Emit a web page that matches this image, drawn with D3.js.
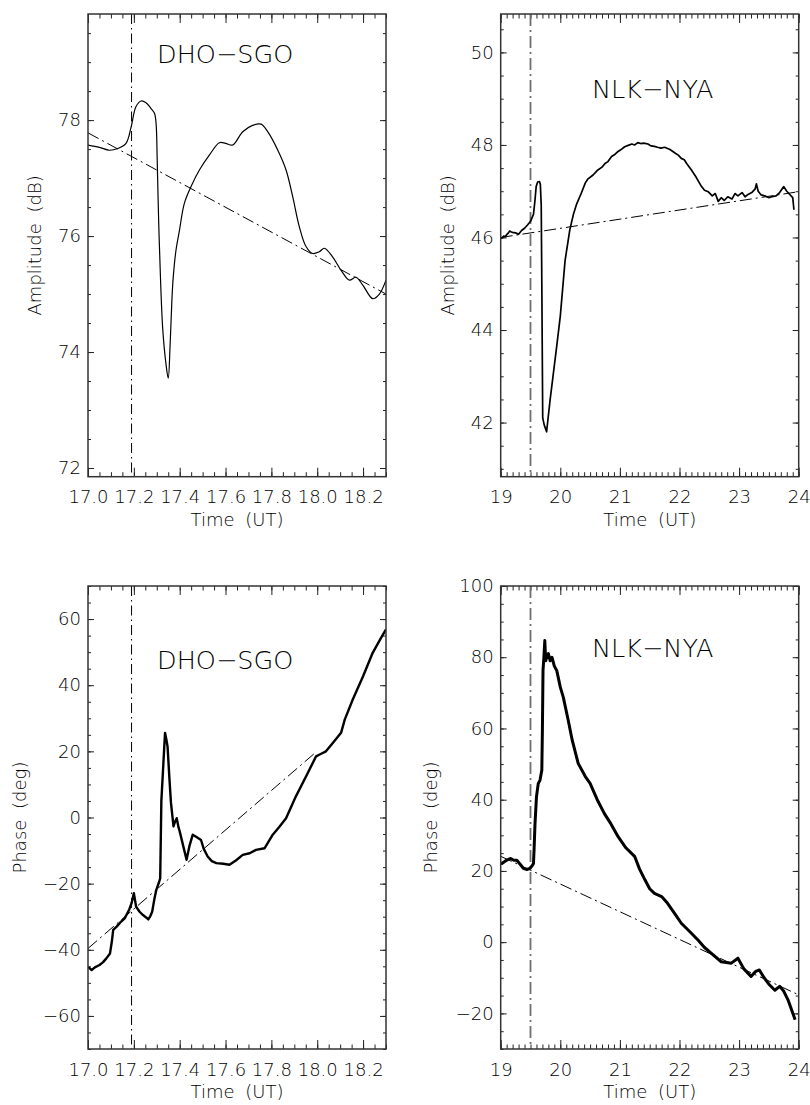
<!DOCTYPE html>
<html>
<head>
<meta charset="utf-8">
<script src="https://cdn.jsdelivr.net/npm/d3@7"></script>
<style>
  body { margin: 0; background: #fff; }
  svg { display: block; }
  text { font-family: "DejaVu Sans", sans-serif; font-weight: 200; fill: #000; }
  .axis path { display: none; }
  .axis line { stroke: #222; stroke-width: 1; }
</style>
</head>
<body>
<svg width="810" height="1105"></svg>
<script>
// --- tick labels ---
const dhoTimeTicks = [17.0, 17.2, 17.4, 17.6, 17.8, 18.0, 18.2]
const nlkTimeTicks = [19, 20, 21, 22, 23, 24]
const dhoAmpTicks = [72, 74, 76, 78]
const nlkAmpTicks = [42, 44, 46, 48, 50]
const dhoPhaseTicks = [-60, -40, -20, 0, 20, 40, 60]
const nlkPhaseTicks = [-20, 0, 20, 40, 60, 80, 100]

// --- flare onset (UT) ---
const dhoEvent = 17.19
const nlkEvent = 19.5

// --- DHO-SGO amplitude (UT, dB) ---
const dhoAmp = [
  [17.0,77.57],[17.05,77.53],[17.093,77.48],[17.13,77.51],[17.166,77.6],[17.188,77.88],
  [17.209,78.23],[17.231,78.33],[17.253,78.3],[17.275,78.2],[17.29,78.12],[17.297,77.94],
  [17.302,77.3],[17.308,76.3],[17.316,75.3],[17.326,74.4],[17.34,73.8],[17.35,73.55],
  [17.358,74.1],[17.366,74.9],[17.372,75.3],[17.384,75.76],[17.399,76.1],[17.42,76.56],
  [17.449,76.85],[17.486,77.14],[17.53,77.4],[17.573,77.61],[17.6,77.6],[17.631,77.57],
  [17.675,77.8],[17.718,77.91],[17.755,77.93],[17.784,77.8],[17.828,77.48],[17.864,77.14],
  [17.893,76.68],[17.922,76.16],[17.951,75.82],[17.98,75.7],[18.009,75.73],[18.031,75.79],
  [18.067,75.64],[18.104,75.41],[18.14,75.24],[18.169,75.29],[18.198,75.16],[18.242,74.92],
  [18.271,75.0],[18.3,75.24]
]
const dhoAmpTrend = [[17.0,77.78],[18.3,75.0]]

// --- NLK-NYA amplitude (UT, dB) ---
const nlkAmp = [
  [19.0,45.98],[19.03,46.0],[19.05,46.03],[19.08,46.02],[19.1,46.06],[19.13,46.1],[19.15,46.14],
  [19.18,46.12],[19.2,46.11],[19.25,46.1],[19.3,46.07],[19.33,46.12],[19.35,46.15],[19.4,46.2],
  [19.45,46.27],[19.5,46.35],[19.55,46.5],[19.575,46.8],[19.595,47.1],[19.62,47.2],
  [19.65,47.21],[19.665,47.15],[19.68,46.7],[19.69,45.0],[19.705,42.1],[19.73,41.95],
  [19.77,41.8],[19.83,42.5],[19.94,43.65],[20.0,44.3],[20.04,44.9],[20.08,45.5],
  [20.16,46.17],[20.22,46.5],[20.27,46.71],[20.35,46.95],[20.42,47.18],[20.46,47.26],
  [20.55,47.35],[20.63,47.46],[20.7,47.52],[20.75,47.6],[20.8,47.64],[20.86,47.75],
  [20.92,47.8],[20.97,47.86],[21.02,47.9],[21.08,47.96],[21.14,47.99],[21.2,48.02],
  [21.25,48.0],[21.3,48.05],[21.35,48.03],[21.4,48.04],[21.47,48.02],[21.52,47.98],
  [21.58,47.97],[21.63,47.95],[21.69,47.93],[21.75,47.95],[21.84,47.9],[21.93,47.82],
  [21.98,47.78],[22.03,47.71],[22.08,47.68],[22.12,47.6],[22.2,47.46],[22.28,47.3],
  [22.37,47.1],[22.42,47.02],[22.48,46.99],[22.55,46.9],[22.6,46.95],[22.65,46.78],
  [22.7,46.86],[22.75,46.8],[22.81,46.88],[22.88,46.83],[22.93,46.95],[22.98,46.9],
  [23.05,46.97],[23.1,46.88],[23.15,46.93],[23.22,46.98],[23.27,47.05],[23.29,47.16],
  [23.32,47.0],[23.37,46.92],[23.43,46.9],[23.5,46.86],[23.55,46.88],[23.62,46.9],
  [23.68,46.97],[23.75,47.1],[23.8,47.0],[23.85,46.93],[23.9,46.86],[23.92,46.6]
]
const nlkAmpTrend = [[19.0,46.0],[24.0,46.99]]

// --- DHO-SGO phase (UT, deg) ---
const dhoPhase = [
  [17.0,-45.2],[17.016,-46.1],[17.03,-45.3],[17.05,-44.6],[17.065,-43.8],[17.08,-42.6],
  [17.096,-41.1],[17.104,-37.5],[17.11,-34.0],[17.125,-33.0],[17.14,-31.8],[17.16,-30.5],
  [17.18,-27.8],[17.19,-25.9],[17.2,-22.9],[17.21,-27.0],[17.225,-28.5],[17.24,-29.5],
  [17.255,-30.3],[17.263,-30.8],[17.272,-29.8],[17.28,-28.5],[17.29,-24.5],[17.298,-21.9],
  [17.31,-19.5],[17.315,-18.4],[17.32,5],[17.327,14],[17.336,25.6],[17.342,23.5],
  [17.347,21.5],[17.355,12],[17.362,4.4],[17.373,-2.7],[17.38,-1.2],[17.387,-0.2],
  [17.395,-3.0],[17.4,-4.2],[17.415,-8.5],[17.43,-12.8],[17.443,-8.5],[17.457,-5.2],
  [17.475,-6.0],[17.493,-6.8],[17.505,-9.5],[17.522,-11.8],[17.54,-13.2],[17.56,-13.8],
  [17.59,-14.0],[17.617,-14.3],[17.645,-13.0],[17.675,-11.3],[17.705,-10.8],[17.733,-9.8],
  [17.77,-9.3],[17.806,-5.2],[17.835,-2.8],[17.864,-0.2],[17.907,6.4],[17.951,12.4],
  [17.995,18.5],[18.015,19.2],[18.038,20.0],[18.068,22.5],[18.104,25.6],[18.12,29.6],
  [18.155,35.7],[18.2,42.7],[18.242,49.8],[18.274,53.8],[18.3,56.9]
]
const dhoPhaseTrend = [[17.0,-39.6],[17.99,19.5]]

// --- NLK-NYA phase (UT, deg) ---
const nlkPhase = [
  [19.0,22.3],[19.02,22.1],[19.08,22.8],[19.16,23.5],[19.22,23.0],[19.27,23.0],
  [19.33,21.8],[19.38,20.7],[19.44,20.4],[19.49,20.7],[19.53,21.5],[19.55,22.1],
  [19.56,26],[19.575,33],[19.6,40.8],[19.63,44.5],[19.66,45.5],[19.69,48.3],
  [19.7,60],[19.71,76.3],[19.725,80],[19.74,84.7],[19.755,79],[19.77,80.0],
  [19.8,81],[19.83,79],[19.86,80],[19.9,77.5],[19.94,76.3],[20.0,71.6],
  [20.05,68.8],[20.13,62.5],[20.2,56.7],[20.3,50.2],[20.42,46.5],[20.5,44.6],
  [20.62,40],[20.74,36.1],[20.85,33.2],[20.97,29.6],[21.1,26.5],[21.25,24.0],
  [21.33,20.5],[21.42,17.5],[21.5,15],[21.58,13.7],[21.7,12.8],[21.8,10.9],
  [21.92,8],[22.03,5.3],[22.17,3],[22.31,0.6],[22.42,-1.5],[22.53,-3.1],
  [22.7,-5.5],[22.87,-5.9],[22.98,-4.5],[23.08,-7.5],[23.2,-9.6],[23.28,-8.2],
  [23.34,-7.8],[23.42,-10],[23.5,-11.8],[23.6,-13.5],[23.68,-12.4],[23.75,-13.8],
  [23.82,-16.2],[23.9,-19.9],[23.94,-21.8]
]
const nlkPhaseTrend = [[19.0,24.1],[24.0,-14.8]]

// ---------------------------------------------------------------
const svg = d3.select("svg")
const minus = s => String(s).replace("-", "\u2212")

const panels = [
  { id: "a", box: [88, 14, 386, 476.7], xdom: [17, 18.3], ydom: [71.85, 79.83],
    xticks: dhoTimeTicks, xminor: 0.05, xfmt: d => d3.format(".1f")(d),
    yticks: dhoAmpTicks, yminor: 0.5, ylabel: "Amplitude (dB)", ylabx: 41,
    title: "DHO\u2212SGO", titlexy: [157, 63],
    data: dhoAmp, trend: dhoAmpTrend, event: dhoEvent, lw: 1.2, smooth: true, gray: false },
  { id: "b", box: [500.7, 14, 798.7, 476.7], xdom: [19, 24], ydom: [40.83, 50.83],
    xticks: nlkTimeTicks, xminor: 0.1, xfmt: d => d3.format("d")(d),
    yticks: nlkAmpTicks, yminor: 0.5, ylabel: "Amplitude (dB)", ylabx: 454,
    title: "NLK\u2212NYA", titlexy: [592, 98],
    data: nlkAmp, trend: nlkAmpTrend, event: nlkEvent, lw: 1.7, smooth: false, gray: true },
  { id: "c", box: [88, 586, 386, 1049], xdom: [17, 18.3], ydom: [-70, 70],
    xticks: dhoTimeTicks, xminor: 0.05, xfmt: d => d3.format(".1f")(d),
    yticks: dhoPhaseTicks, yminor: 5, ylabel: "Phase (deg)", ylabx: 26,
    title: "DHO\u2212SGO", titlexy: [157, 669],
    data: dhoPhase, trend: dhoPhaseTrend, event: dhoEvent, lw: 2.4, smooth: false, gray: false },
  { id: "d", box: [500.7, 586, 798.7, 1049], xdom: [19, 24], ydom: [-30, 100],
    xticks: nlkTimeTicks, xminor: 0.1, xfmt: d => d3.format("d")(d),
    yticks: nlkPhaseTicks, yminor: 5, ylabel: "Phase (deg)", ylabx: 437,
    title: "NLK\u2212NYA", titlexy: [592, 657],
    data: nlkPhase, trend: nlkPhaseTrend, event: nlkEvent, lw: 3, smooth: false, gray: true }
]

panels.forEach(p => {
  const [x0, y0, x1, y1] = p.box
  const x = d3.scaleLinear(p.xdom, [x0, x1])
  const y = d3.scaleLinear(p.ydom, [y1, y0])
  const g = svg.append("g")

  svg.append("clipPath").attr("id", "clip-" + p.id)
    .append("rect").attr("x", x0).attr("y", y0).attr("width", x1 - x0).attr("height", y1 - y0)

  const xminor = d3.range(Math.round(p.xdom[0] / p.xminor), Math.round(p.xdom[1] / p.xminor) + 1)
    .map(i => +(i * p.xminor).toFixed(4))
  const yminor = d3.range(Math.ceil(p.ydom[0] / p.yminor), Math.floor(p.ydom[1] / p.yminor) + 1)
    .map(i => +(i * p.yminor).toFixed(4))

  const axis = (gen, tx, ty) => g.append("g").attr("class", "axis")
    .attr("transform", `translate(${tx},${ty})`)
    .call(gen)
    .attr("font-size", 18).attr("font-family", null)

  // x axes (bottom labelled, top mirrored)
  axis(d3.axisBottom(x).tickValues(p.xticks).tickFormat(p.xfmt).tickSize(-9).tickPadding(14).tickSizeOuter(0), 0, y1)
  axis(d3.axisBottom(x).tickValues(xminor).tickFormat("").tickSize(-4.5).tickSizeOuter(0), 0, y1)
  axis(d3.axisTop(x).tickValues(p.xticks).tickFormat("").tickSize(-9).tickSizeOuter(0), 0, y0)
  axis(d3.axisTop(x).tickValues(xminor).tickFormat("").tickSize(-4.5).tickSizeOuter(0), 0, y0)
  // y axes (left labelled, right mirrored)
  axis(d3.axisLeft(y).tickValues(p.yticks).tickFormat(d => minus(d)).tickSize(-6).tickPadding(7).tickSizeOuter(0), x0, 0)
  axis(d3.axisLeft(y).tickValues(yminor).tickFormat("").tickSize(-3).tickSizeOuter(0), x0, 0)
  axis(d3.axisRight(y).tickValues(p.yticks).tickFormat("").tickSize(-6).tickSizeOuter(0), x1, 0)
  axis(d3.axisRight(y).tickValues(yminor).tickFormat("").tickSize(-3).tickSizeOuter(0), x1, 0)

  const plot = g.append("g").attr("clip-path", `url(#clip-${p.id})`)

  // onset line
  plot.append("line")
    .attr("x1", x(p.event)).attr("x2", x(p.event)).attr("y1", y0).attr("y2", y1)
    .style("stroke", p.gray ? "#6e6e6e" : "#000")
    .style("stroke-width", p.gray ? 1.8 : 1)
    .style("stroke-dasharray", p.gray ? "12,4,2,4" : "10,4,1.5,4")

  const line = d3.line().x(d => x(d[0])).y(d => y(d[1]))

  // quiet-day trend
  plot.append("path").attr("d", line(p.trend))
    .style("fill", "none").style("stroke", "#000").style("stroke-width", 1)
    .style("stroke-dasharray", "12,4,2,4")

  // measured signal
  plot.append("path")
    .attr("d", line.curve(p.smooth ? d3.curveCatmullRom.alpha(0.5) : d3.curveLinear)(p.data))
    .style("fill", "none").style("stroke", "#000").style("stroke-width", p.lw)
    .style("stroke-linejoin", "round")

  // frame
  g.append("rect").attr("x", x0).attr("y", y0).attr("width", x1 - x0).attr("height", y1 - y0)
    .style("fill", "none").style("stroke", "#333").style("stroke-width", 1.5)

  // labels
  g.append("text").attr("x", (x0 + x1) / 2).attr("y", y1 + 49)
    .attr("text-anchor", "middle").attr("font-size", 18).style("word-spacing", "5px")
    .text("Time (UT)")
  g.append("text")
    .attr("transform", `translate(${p.ylabx},${(y0 + y1) / 2}) rotate(-90)`)
    .attr("text-anchor", "middle").attr("font-size", 18).style("word-spacing", "5px")
    .text(p.ylabel)
  g.append("text").attr("x", p.titlexy[0]).attr("y", p.titlexy[1])
    .attr("font-size", 25.5).text(p.title)
})
</script>
</body>
</html>
